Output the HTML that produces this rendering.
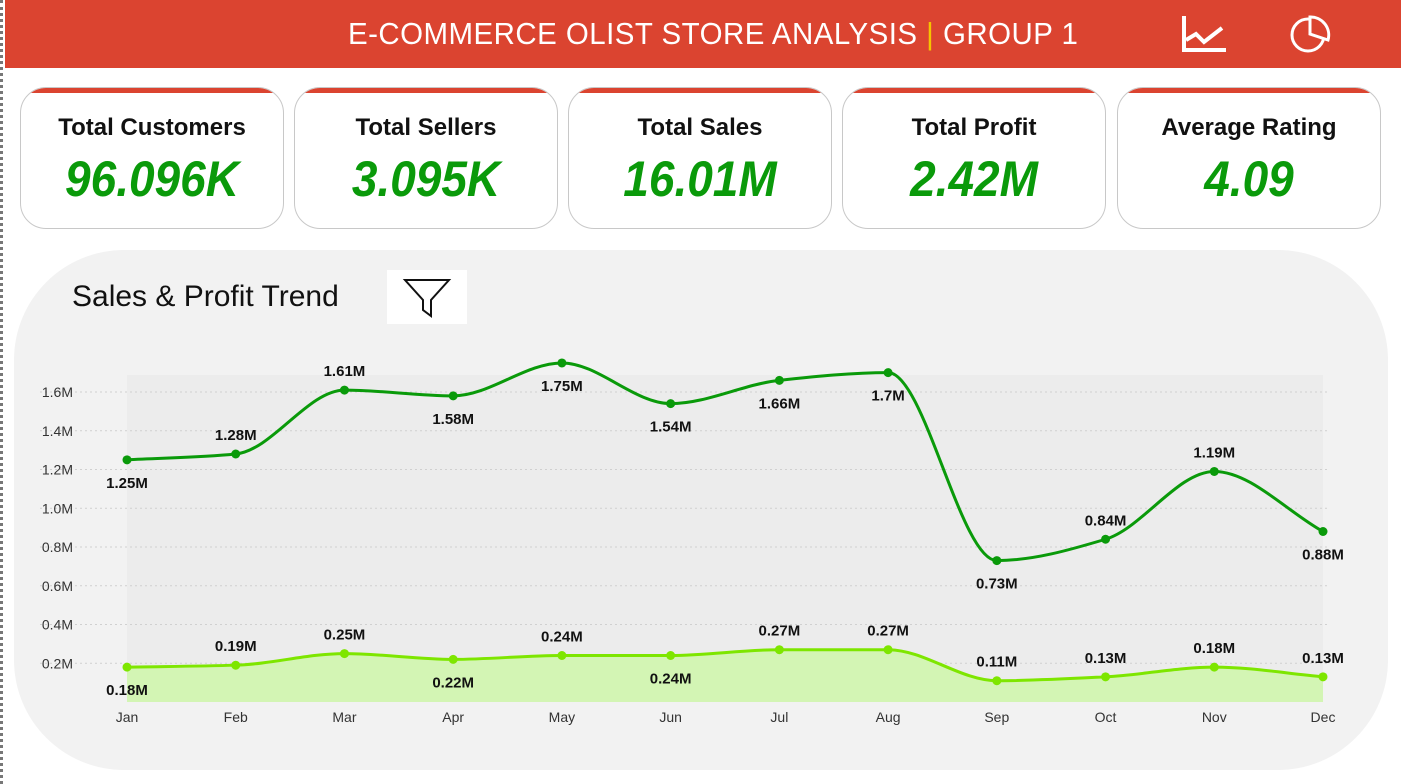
<!DOCTYPE html>
<html><head><meta charset="utf-8"><style>
body{margin:0;width:1401px;height:784px;background:#fff;position:relative;overflow:hidden;font-family:"Liberation Sans","DejaVu Sans",sans-serif}
.hdr{position:absolute;left:5px;top:0;width:1396px;height:68px;background:#db4430;color:#fff;font-size:31px;text-align:center;line-height:68px}
.hdr span.t{position:absolute;left:343px;top:0;transform:scaleX(0.95);transform-origin:left center;white-space:nowrap;letter-spacing:0.5px}
.dots{position:absolute;left:0;top:0;width:3px;height:784px;border-left:3px dotted #777}
.card{position:absolute;top:87px;width:262px;height:140px;border:1px solid #c8c8c8;border-radius:26px;background:#fff;overflow:hidden;text-align:center}
.card:before{content:"";position:absolute;left:0;top:0;right:0;height:5px;background:#db4430}
.card .l{margin-top:26px;font-size:24px;font-weight:bold;color:#111}
.card .v{margin-top:8px;font-size:50px;font-weight:bold;font-style:italic;color:#0a9a0a;transform:scaleX(0.92)}
.panel{position:absolute;left:14px;top:250px;width:1374px;height:520px;background:#f2f2f2;border-radius:110px}
</style></head><body>
<div class="dots"></div>
<div class="hdr"><span class="t">E-COMMERCE OLIST STORE ANALYSIS <span style="color:#f5c400">|</span> GROUP 1</span>
<svg style="position:absolute;left:1175px;top:14px" width="50" height="40"><polyline points="4,2 4,36 46,36" fill="none" stroke="#fff" stroke-width="4"/><polyline points="6,26 16,20 24,28 42,14" fill="none" stroke="#fff" stroke-width="4"/></svg>
<svg style="position:absolute;left:1283px;top:14px" width="46" height="40"><circle cx="20" cy="21" r="16" fill="none" stroke="#fff" stroke-width="3"/><path d="M22,3 L22,20 L40,26 A18,18 0 0 0 22,3Z" fill="#db4430" stroke="#fff" stroke-width="3"/></svg>
</div>
<div class="card" style="left:20px"><div class="l">Total Customers</div><div class="v">96.096K</div></div>
<div class="card" style="left:294px"><div class="l">Total Sellers</div><div class="v">3.095K</div></div>
<div class="card" style="left:568px"><div class="l">Total Sales</div><div class="v">16.01M</div></div>
<div class="card" style="left:842px"><div class="l">Total Profit</div><div class="v">2.42M</div></div>
<div class="card" style="left:1117px"><div class="l">Average Rating</div><div class="v">4.09</div></div>
<div class="panel"></div>
<div style="position:absolute;left:72px;top:280px;font-size:30px;color:#111">Sales &amp; Profit Trend</div>
<svg style="position:absolute;left:387px;top:270px;background:#fff" width="80" height="54"><path d="M18,10 L62,10 L44,30 L44,46 L36,40 L36,30 Z" fill="none" stroke="#111" stroke-width="2"/></svg>
<svg id="ch" style="position:absolute;left:0;top:0" width="1401" height="784"></svg>
<script>
const months=["Jan","Feb","Mar","Apr","May","Jun","Jul","Aug","Sep","Oct","Nov","Dec"];
const sales=[1.25,1.28,1.61,1.58,1.75,1.54,1.66,1.70,0.73,0.84,1.19,0.88];
const profit=[0.18,0.19,0.25,0.22,0.24,0.24,0.27,0.27,0.11,0.13,0.18,0.13];
const salesLabelAbove=[0,1,1,0,0,0,0,0,0,1,1,0];
const profitLabelAbove=[0,1,1,0,1,0,1,1,1,1,1,1];
const yTicks=[0.2,0.4,0.6,0.8,1.0,1.2,1.4,1.6];
const NS="http://www.w3.org/2000/svg",svg=document.getElementById('ch');
const x=i=>127+i*(1323-127)/11, y=v=>702-v*193.75;
function mk(t,a,p){const e=document.createElementNS(NS,t);for(const k in a)e.setAttribute(k,a[k]);(p||svg).appendChild(e);return e;}
let bg=mk('rect',{x:127,y:375,width:1196,height:327,fill:'#ececec'});


yTicks.forEach(v=>{let g=mk('line',{x1:40,x2:1330,y1:y(v),y2:y(v),stroke:'#d0d0d0','stroke-dasharray':'2,3'});


let t=mk('text',{x:73,y:y(v)+5,'text-anchor':'end','font-size':14,fill:'#333'});t.textContent=v.toFixed(1)+'M';

});
months.forEach((m,i)=>{let t=mk('text',{x:x(i),y:722,'text-anchor':'middle','font-size':14,fill:'#333'});t.textContent=m;

});
function path(vals){const P=vals.map((v,i)=>[x(i),y(v)]);const n=P.length,h=P[1][0]-P[0][0];
const d=[];for(let i=0;i<n-1;i++)d.push((P[i+1][1]-P[i][1])/h);
const m=P.map((p,i)=>{if(i==0)return d[0];if(i==n-1)return d[n-2];if(d[i-1]*d[i]<=0)return 0;return 2/(1/d[i-1]+1/d[i]);});
let s='M'+P[0];for(let i=0;i<n-1;i++){s+=` C${P[i][0]+h/3},${P[i][1]+m[i]*h/3} ${P[i+1][0]-h/3},${P[i+1][1]-m[i+1]*h/3} ${P[i+1][0]},${P[i+1][1]}`;}return s;}
let area=mk('path',{d:path(profit)+` L${x(11)},702 L${x(0)},702 Z`,fill:'#d3f5b4'});


function series(vals,col,above,nm){let l=mk('path',{d:path(vals),fill:'none',stroke:col,'stroke-width':3});


vals.forEach((v,i)=>{let c=mk('circle',{cx:x(i),cy:y(v),r:4.5,fill:col});


let t=mk('text',{x:x(i),y:y(v)+(above[i]?-14:28),'text-anchor':'middle','font-size':15,'font-weight':'bold',fill:'#111'});t.textContent=v+'M';

});}
series(sales,'#0a9a0a',salesLabelAbove,'sales');
series(profit,'#7ee600',profitLabelAbove,'profit');
</script>
</body></html>
